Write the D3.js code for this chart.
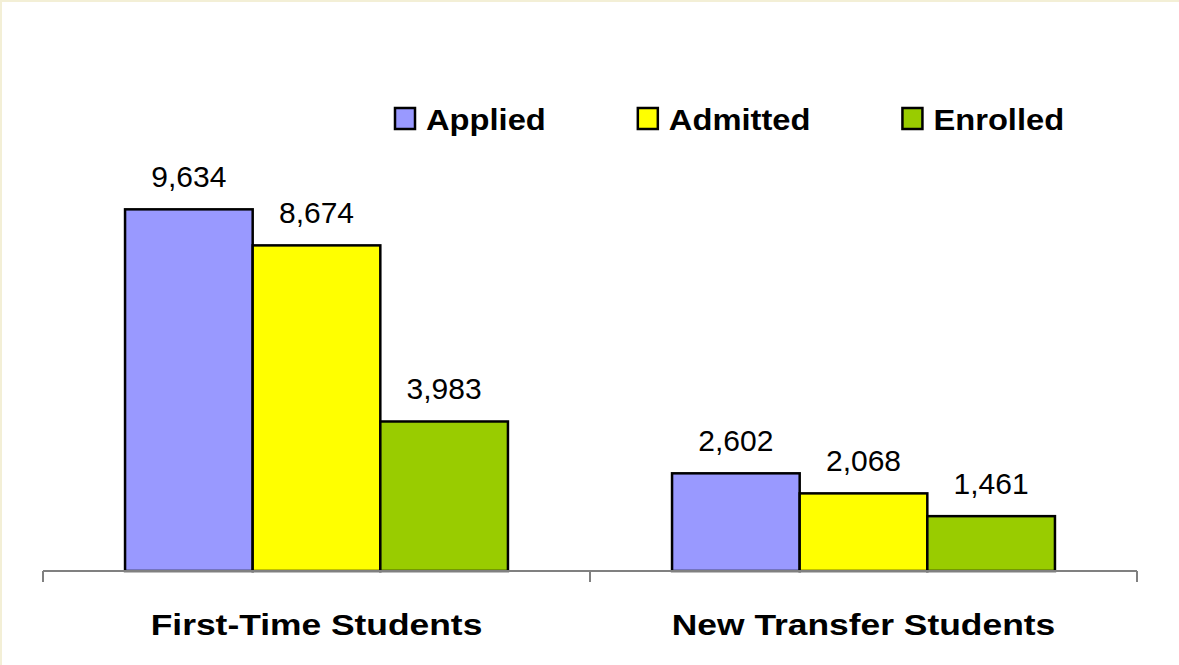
<!DOCTYPE html>
<html>
<head>
<meta charset="utf-8">
<script src="https://cdn.jsdelivr.net/npm/d3@7"></script>
<style>
  body { margin: 0; background: #fff; }
  svg { display: block; font-family: "Liberation Sans", Arial, sans-serif; }
</style>
</head>
<body>
<div id="chart"></div>
<script>
// Data
const categories = ["First-Time Students", "New Transfer Students"];
const seriesNames = ["Applied", "Admitted", "Enrolled"];
const applied = [9634, 2602];
const admitted = [8674, 2068];
const enrolled = [3983, 1461];
const colors = ["#9999ff", "#ffff00", "#99cc00"];

const series = [applied, admitted, enrolled];

const W = 1179, H = 665;

const svg = d3.select("#chart")
    .append("svg")
    .attr("width", W)
    .attr("height", H);

// Beige frame on top and left edges
svg.append("rect").attr("x", 0).attr("y", 0).attr("width", W).attr("height", 2).attr("fill", "#f3efd6");
svg.append("rect").attr("x", 0).attr("y", 0).attr("width", 2).attr("height", H).attr("fill", "#f3efd6");

// Scales
const x0 = d3.scaleBand()
    .domain(categories)
    .range([43, 1137])
    .padding(0);

const x1 = d3.scaleBand()
    .domain(seriesNames)
    .range([0, x0.bandwidth() * 0.7]);

const y = d3.scaleLinear()
    .domain([0, 12000])
    .range([571, 571 - 12000 * 0.03754]);

const groupOffset = x0.bandwidth() * 0.15;

// Bars
categories.forEach((cat, ci) => {
    const g = svg.append("g")
        .attr("transform", `translate(${x0(cat) + groupOffset},0)`);
    seriesNames.forEach((s, si) => {
        const v = series[si][ci];
        g.append("rect")
            .attr("x", x1(s))
            .attr("y", y(v))
            .attr("width", x1.bandwidth())
            .attr("height", y(0) - y(v))
            .attr("fill", colors[si])
            .attr("stroke", "#000")
            .attr("stroke-width", 2.5);
        g.append("text")
            .attr("x", x1(s) + x1.bandwidth() / 2)
            .attr("y", y(v) - 22)
            .attr("text-anchor", "middle")
            .attr("font-size", 30)
            .attr("fill", "#000")
            .text(d3.format(",")(v));
    });
});

// Axis baseline and ticks at band boundaries
const axisG = svg.append("g");
axisG.append("line")
    .attr("x1", x0.range()[0]).attr("x2", x0.range()[1])
    .attr("y1", y(0)).attr("y2", y(0))
    .attr("stroke", "#808080").attr("stroke-width", 2);
const tickXs = categories.map(c => x0(c)).concat([x0.range()[1]]);
axisG.selectAll(".tick")
    .data(tickXs)
    .enter()
    .append("line")
    .attr("x1", d => d).attr("x2", d => d)
    .attr("y1", y(0)).attr("y2", y(0) + 11)
    .attr("stroke", "#808080").attr("stroke-width", 2);

// Category labels
categories.forEach(cat => {
    const cx = x0(cat) + x0.bandwidth() / 2;
    svg.append("text")
        .attr("transform", `translate(${cx},635) scale(1.18,1)`)
        .attr("text-anchor", "middle")
        .attr("font-size", 30)
        .attr("font-weight", "bold")
        .text(cat);
});

// Legend
let lx = 395;
seriesNames.forEach((s, si) => {
    svg.append("rect")
        .attr("x", lx)
        .attr("y", 108)
        .attr("width", 20)
        .attr("height", 21)
        .attr("fill", colors[si])
        .attr("stroke", "#000")
        .attr("stroke-width", 2.5);
    const t = svg.append("text")
        .attr("transform", `translate(${lx + 31},130) scale(1.09,1)`)
        .attr("font-size", 30)
        .attr("font-weight", "bold")
        .text(s);
    const tw = t.node().getComputedTextLength() * 1.09;
    lx += 31 + tw + 92;
});
</script>
</body>
</html>
